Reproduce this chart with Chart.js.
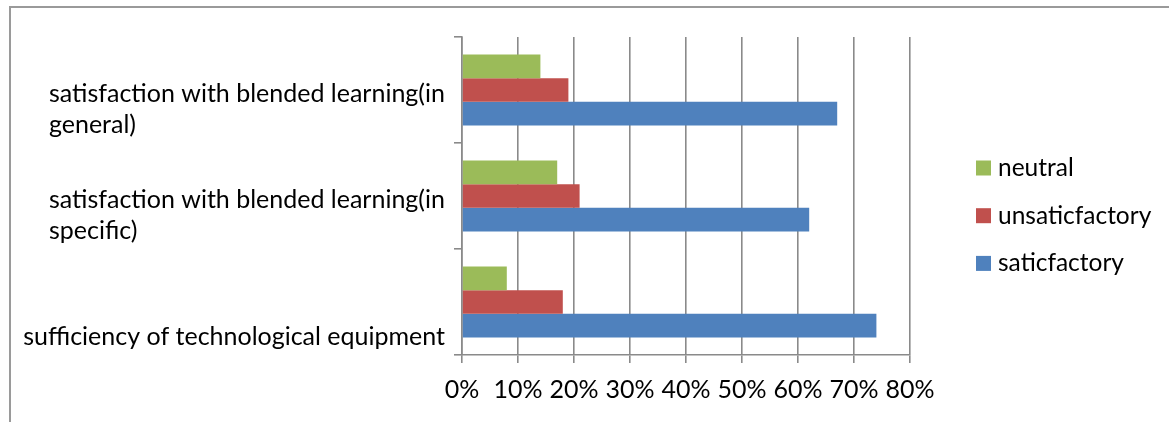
<!DOCTYPE html>
<html>
<head>
<meta charset="utf-8">
<script src="https://cdn.jsdelivr.net/npm/chart.js@4"></script>
<style>
  html, body { margin: 0; padding: 0; background: #fff; }
  #wrap { position: relative; width: 1169px; height: 422px; overflow: hidden; }
  #frame { position: absolute; left: 9px; top: 6px; right: -5px; bottom: -5px;
           border-top: 2px solid #9a9a9a; border-left: 2px solid #9a9a9a; }
  canvas { position: absolute; left: 0; top: 0; }
</style>
</head>
<body>
<div id="wrap">
  <div id="frame"></div>
  <canvas id="c" width="1169" height="422"></canvas>
</div>
<script>
// ---- data ----
const categories = [
  ["satisfaction with blended learning(in", "general)"],
  ["satisfaction with blended learning(in", "specific)"],
  ["sufficiency of technological equipment"]
];
const seriesNames = ["neutral", "unsaticfactory", "saticfactory"];
const neutral = [14, 17, 8];
const unsatisfactory = [19, 21, 18];
const satisfactory = [67, 62, 74];
const xTickLabels = ["0%", "10%", "20%", "30%", "40%", "50%", "60%", "70%", "80%"];

const colors = ["#9BBB59", "#C0504D", "#4F81BD"];
const FONT = "Lato, 'Open Sans', sans-serif";
const FS = 25;
const gridColor = "#8a8a8a";

const labelPlugin = {
  id: "catLabels",
  afterDraw(chart) {
    const ctx = chart.ctx;
    const ys = chart.scales.y;
    ctx.save();
    ctx.font = FS + "px " + FONT;
    ctx.fillStyle = "#000";
    ctx.textBaseline = "alphabetic";
    ctx.textAlign = "left";
    const right = 445;
    categories.forEach((lines, i) => {
      const c = ys.getPixelForValue(i);
      const w = Math.max(...lines.map(l => ctx.measureText(l).width));
      const left = right - w;
      const n = lines.length;
      lines.forEach((l, j) => {
        const base = c + 43 - (n - 1 - j) * 31;
        ctx.fillText(l, left, base);
      });
    });
    // legend
    ctx.font = "24.5px " + FONT;
    chart.data.datasets.forEach((ds, i) => {
      const cy = 168 + i * 47.7;
      ctx.fillStyle = ds.backgroundColor;
      ctx.fillRect(976, cy - 7.5, 15, 15);
      ctx.fillStyle = "#000";
      ctx.textBaseline = "middle";
      ctx.fillText(ds.label, 998, cy);
    });
    ctx.restore();
  }
};

new Chart(document.getElementById("c"), {
  type: "bar",
  data: {
    labels: categories.map(c => c.join(" ")),
    datasets: [
      { label: seriesNames[0], data: neutral, backgroundColor: colors[0] },
      { label: seriesNames[1], data: unsatisfactory, backgroundColor: colors[1] },
      { label: seriesNames[2], data: satisfactory, backgroundColor: colors[2] }
    ]
  },
  options: {
    indexAxis: "y",
    responsive: false,
    animation: false,
    devicePixelRatio: 1,
    categoryPercentage: 0.67,
    barPercentage: 1.0,
    layout: { padding: { top: 37, right: 259, left: 0, bottom: 0 } },
    plugins: { legend: { display: false }, tooltip: { enabled: false } },
    scales: {
      x: {
        min: 0, max: 80,
        ticks: {
          stepSize: 10,
          color: "#000",
          font: { family: FONT, size: FS },
          padding: 12,
          maxRotation: 0,
          callback: (v, i) => xTickLabels[i]
        },
        grid: { color: gridColor, lineWidth: 1.6, tickLength: 8 },
        border: { color: gridColor, width: 1.6 },
        afterFit(s) { s.height = 67; }
      },
      y: {
        ticks: { display: false },
        grid: { offset: true, drawOnChartArea: false, color: gridColor, lineWidth: 1.6, tickLength: 8 },
        border: { color: gridColor, width: 1.6 },
        afterFit(s) { s.width = 462; }
      }
    }
  },
  plugins: [labelPlugin]
});
</script>
</body>
</html>
